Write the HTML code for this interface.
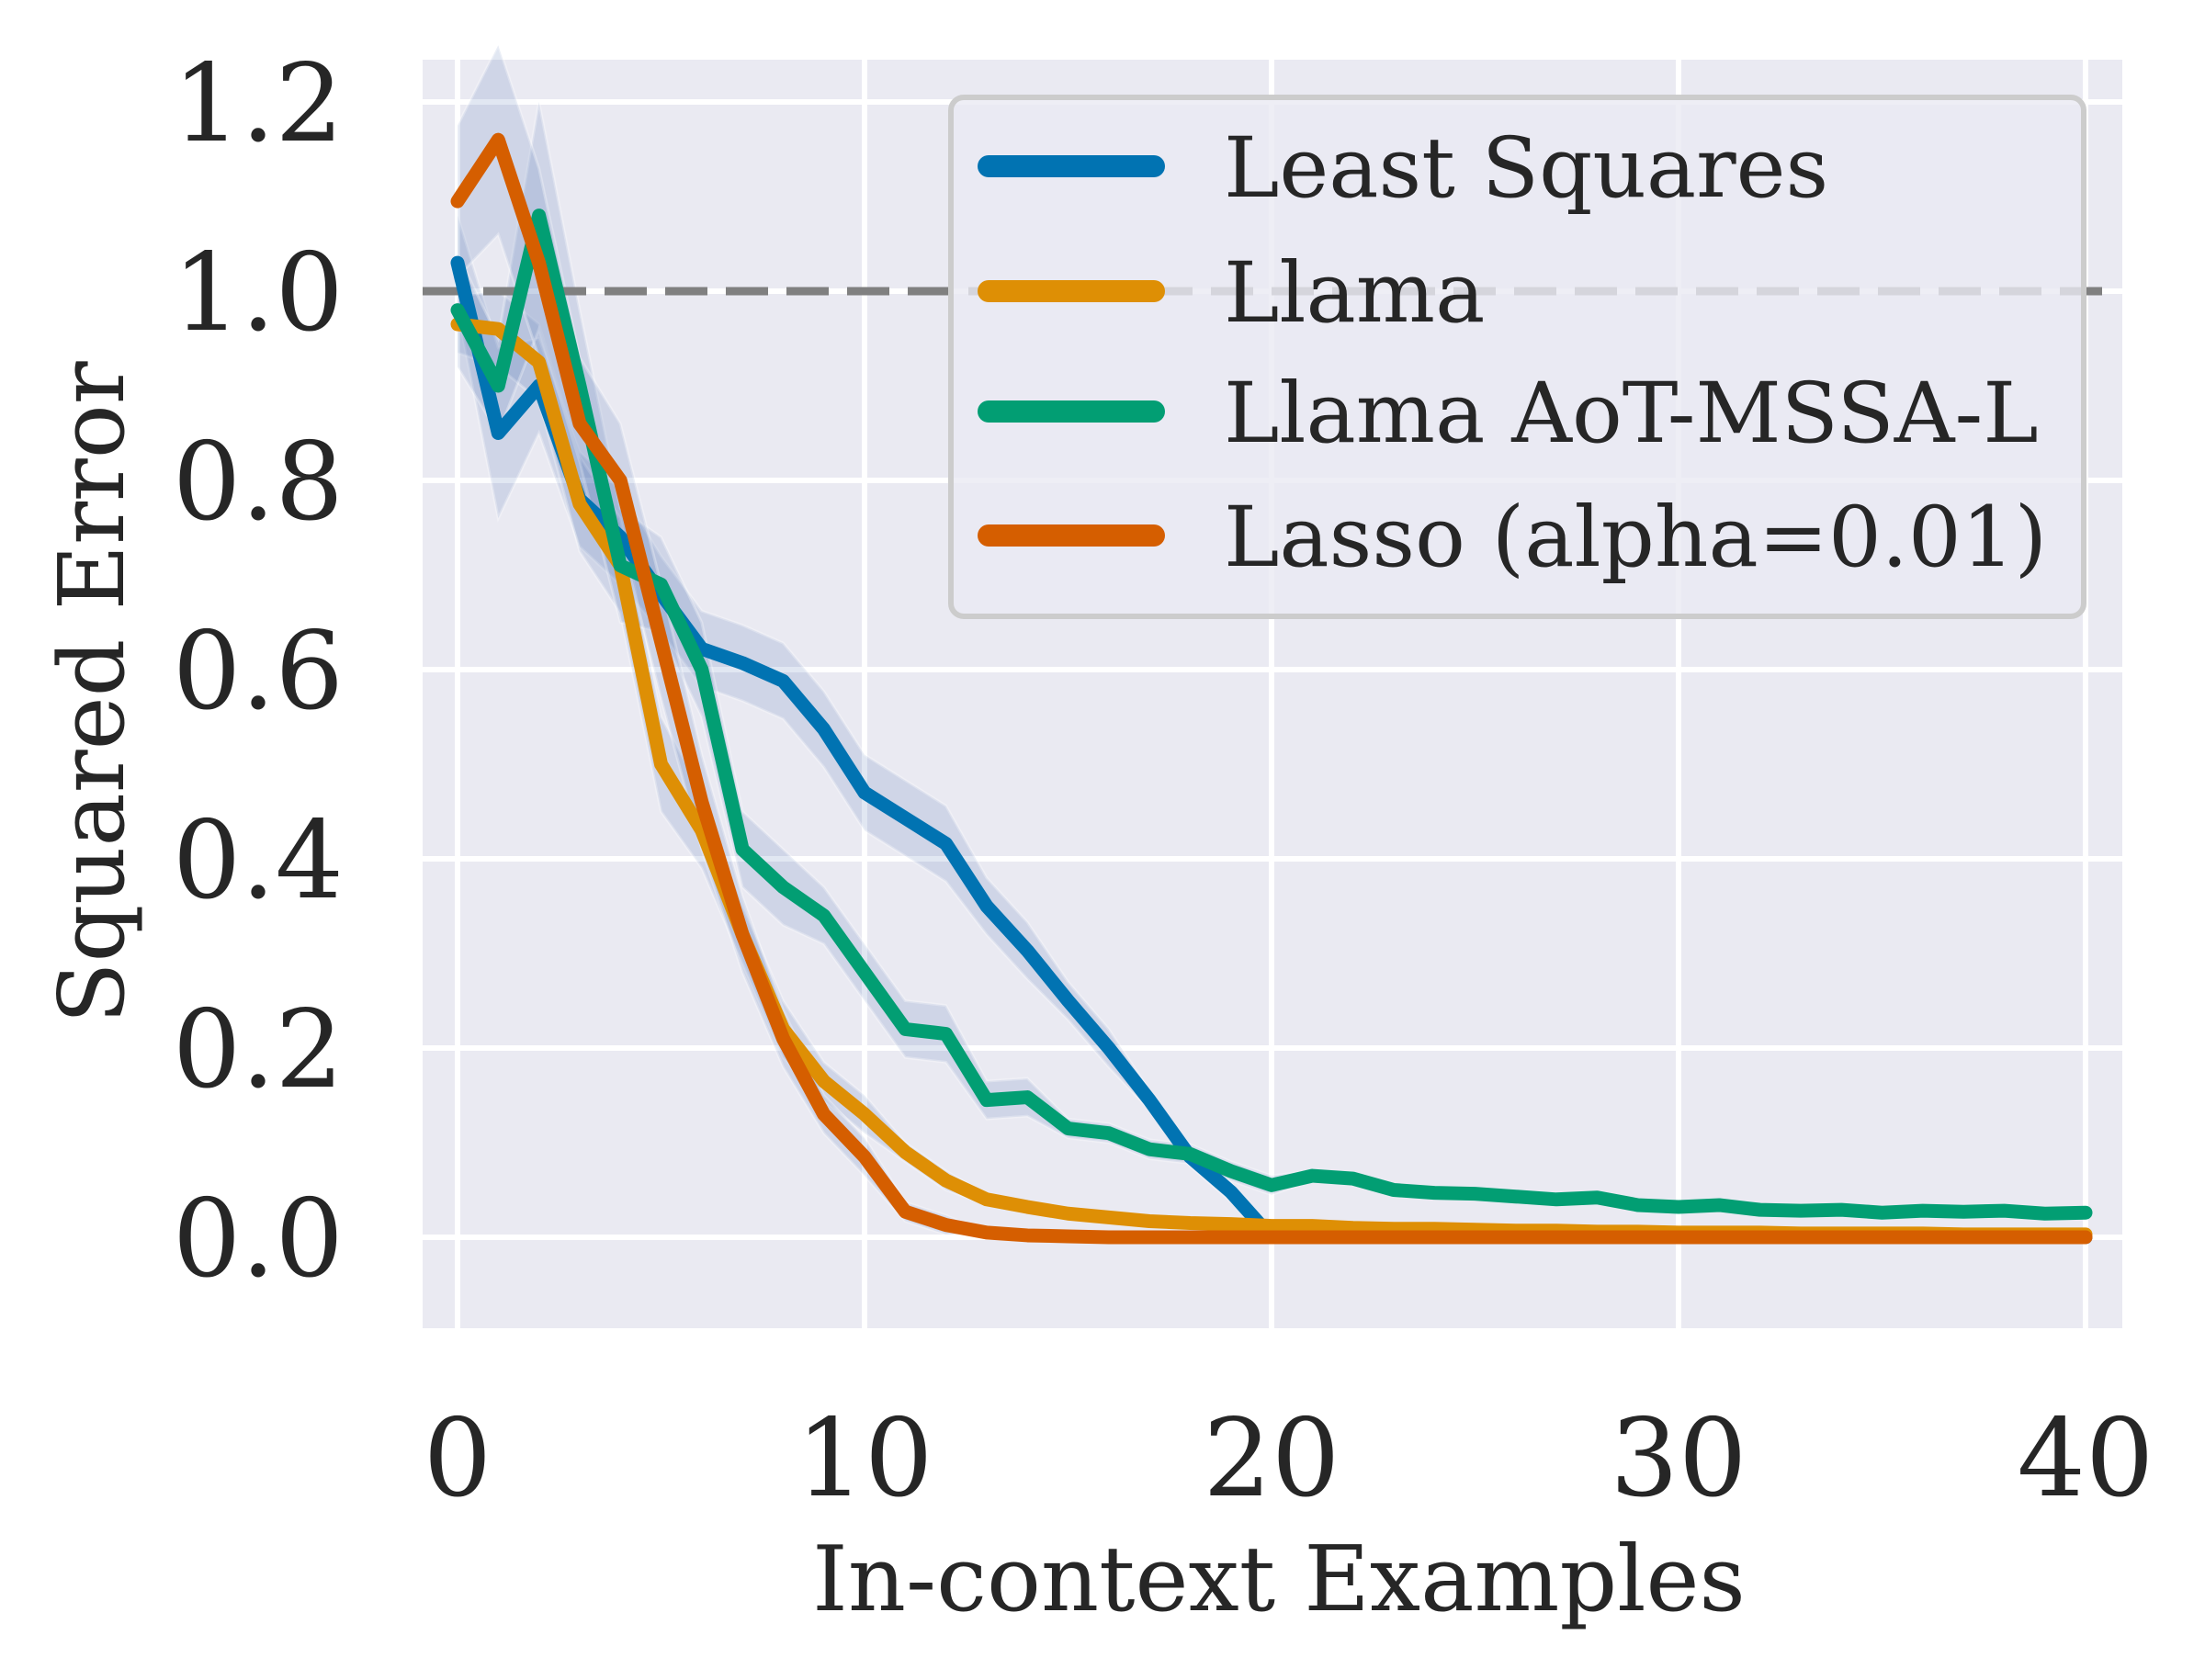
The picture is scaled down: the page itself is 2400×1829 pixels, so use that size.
<!DOCTYPE html>
<html><head><meta charset="utf-8">
<style>
html,body{margin:0;padding:0;background:#fff;}
svg{display:block;font-family:"DejaVu Serif","Liberation Serif",serif;}
</style></head>
<body>
<svg id="chart" width="2400" height="1829" viewBox="0 0 2400 1829">
<rect x="460" y="65" width="1850" height="1381" fill="#eaeaf2"/>
<g id="grid"></g>
<g id="bands"></g>
<line x1="460" x2="2300" y1="317" y2="317" stroke="#808080" stroke-width="9" stroke-dasharray="46,20"/>
<g id="lines"></g>
<g id="ticks"></g>
<text x="1392" y="1753" font-size="98" fill="#262626" text-anchor="middle">In-context Examples</text>
<text transform="translate(134,754) rotate(-90)" font-size="98" fill="#262626" text-anchor="middle">Squared Error</text>
<g>
<rect x="1035" y="106" width="1233" height="565" rx="14" fill="#eaeaf2" fill-opacity="0.8" stroke="#cccccc" stroke-width="6"/>
<g id="legend-entries"></g>
</g>
</svg>
<script>
const xs = [];
for (let i = 0; i <= 40; i++) xs.push(i);
const seriesNames = ["Least Squares", "Llama", "Llama AoT-MSSA-L", "Lasso (alpha=0.01)"];
const leastSquares = [1.03,0.85,0.90,0.78,0.74,0.68,0.622,0.607,0.588,0.537,0.47,0.443,0.416,0.35,0.303,0.25,0.20,0.145,0.085,0.048,0,0,0,0,0,0,0,0,0,0,0,0,0,0,0,0,0,0,0,0,0];
const llama = [0.965,0.96,0.925,0.775,0.71,0.50,0.43,0.32,0.22,0.165,0.13,0.09,0.06,0.04,0.032,0.025,0.021,0.017,0.015,0.014,0.012,0.012,0.010,0.009,0.009,0.008,0.007,0.007,0.006,0.006,0.005,0.005,0.005,0.004,0.004,0.004,0.004,0.003,0.003,0.003,0.003];
const aot = [0.98,0.90,1.08,0.90,0.71,0.69,0.60,0.41,0.37,0.34,0.28,0.22,0.215,0.145,0.148,0.115,0.11,0.093,0.088,0.07,0.055,0.065,0.062,0.05,0.047,0.046,0.043,0.04,0.042,0.034,0.032,0.034,0.029,0.028,0.029,0.026,0.028,0.027,0.028,0.025,0.026];
const lasso = [1.095,1.16,1.03,0.86,0.80,0.63,0.46,0.32,0.21,0.13,0.085,0.027,0.013,0.005,0.002,0.001,0,0,0,0,0,0,0,0,0,0,0,0,0,0,0,0,0,0,0,0,0,0,0,0,0];
const bandLeastSquares = [0.05,0.09,0.05,0.05,0.05,0.04,0.04,0.04,0.04,0.04,0.04,0.04,0.04,0.03,0.03,0.02,0.02,0.01,0.01,0.01,0,0,0,0,0,0,0,0,0,0,0,0,0,0,0,0,0,0,0,0,0];
const bandLlama = [0.03,0.04,0.04,0.05,0.05,0.05,0.04,0.03,0.03,0.02,0.02,0.01,0.01,0.005,0.005,0,0,0,0,0,0,0,0,0,0,0,0,0,0,0,0,0,0,0,0,0,0,0,0,0,0];
const bandAot = [0.06,0.05,0.12,0.08,0.06,0.05,0.05,0.04,0.04,0.03,0.03,0.03,0.03,0.02,0.02,0.01,0.01,0.01,0.01,0.01,0.01,0.005,0.005,0,0,0,0,0,0,0,0,0,0,0,0,0,0,0,0,0,0];
const bandLasso = [0.08,0.10,0.10,0.07,0.06,0.06,0.05,0.04,0.03,0.02,0.02,0.01,0.01,0,0,0,0,0,0,0,0,0,0,0,0,0,0,0,0,0,0,0,0,0,0,0,0,0,0,0,0];
const xTicks = [0,10,20,30,40];
const yTicks = [0.0,0.2,0.4,0.6,0.8,1.0,1.2];
const yTickLabels = ["0.0","0.2","0.4","0.6","0.8","1.0","1.2"];

const colors = ["#0173b2","#de8f05","#029e73","#d55e00"];
const NS = "http://www.w3.org/2000/svg";
function X(v){ return 498 + v*44.3; }
function Y(v){ return 1347 - v*1030; }
function mk(tag, attrs, parent){ const e=document.createElementNS(NS,tag); for(const k in attrs) e.setAttribute(k,attrs[k]); parent.appendChild(e); return e; }

const grid=document.getElementById('grid');
xTicks.forEach(t=>{ const l=mk('line',{x1:X(t),x2:X(t),y1:65,y2:1446,stroke:'#fff','stroke-width':6},grid);

 });
yTicks.forEach(t=>{ const l=mk('line',{x1:460,x2:2310,y1:Y(t),y2:Y(t),stroke:'#fff','stroke-width':6},grid);

 });

const allSeries=[leastSquares,llama,aot,lasso];
const allBands=[bandLeastSquares,bandLlama,bandAot,bandLasso];
const bands=document.getElementById('bands');
allSeries.forEach((s,si)=>{
  const b=allBands[si]; let up=[],dn=[];
  xs.forEach((x,i)=>{ up.push(X(x)+','+Y(s[i]+b[i])); dn.unshift(X(x)+','+Y(Math.max(s[i]-b[i],s[i]===0?0:-1))); });
  const p=mk('polygon',{points:up.concat(dn).join(' '),fill:'#4c72b0','fill-opacity':0.17,stroke:'#fff','stroke-opacity':0.3,'stroke-width':3},bands);
  
  
});
const lines=document.getElementById('lines');
allSeries.forEach((s,si)=>{
  const pts=xs.map((x,i)=>X(x)+','+Y(s[i])).join(' ');
  const l=mk('polyline',{points:pts,fill:'none',stroke:colors[si],'stroke-width':15,'stroke-linejoin':'round','stroke-linecap':'round'},lines);
  
  
});
const ticks=document.getElementById('ticks');
xTicks.forEach(t=>{ const e=mk('text',{x:X(t),y:1628,'font-size':117,fill:'#262626','text-anchor':'middle'},ticks); e.textContent=String(t);

 });
yTicks.forEach((t,i)=>{ const e=mk('text',{x:374,y:Y(t)+42,'font-size':117,fill:'#262626','text-anchor':'end'},ticks); e.textContent=yTickLabels[i];

 });
const leg=document.getElementById('legend-entries');
const legY=[181,317,448,583];
seriesNames.forEach((n,i)=>{
  const l=mk('line',{x1:1076,x2:1256,y1:legY[i],y2:legY[i],stroke:colors[i],'stroke-width':24,'stroke-linecap':'round'},leg);
  
  
  const t=mk('text',{x:1332,y:legY[i]+33,'font-size':91,fill:'#262626'},leg); t.textContent=n;
  
  
});
</script>
</body></html>
